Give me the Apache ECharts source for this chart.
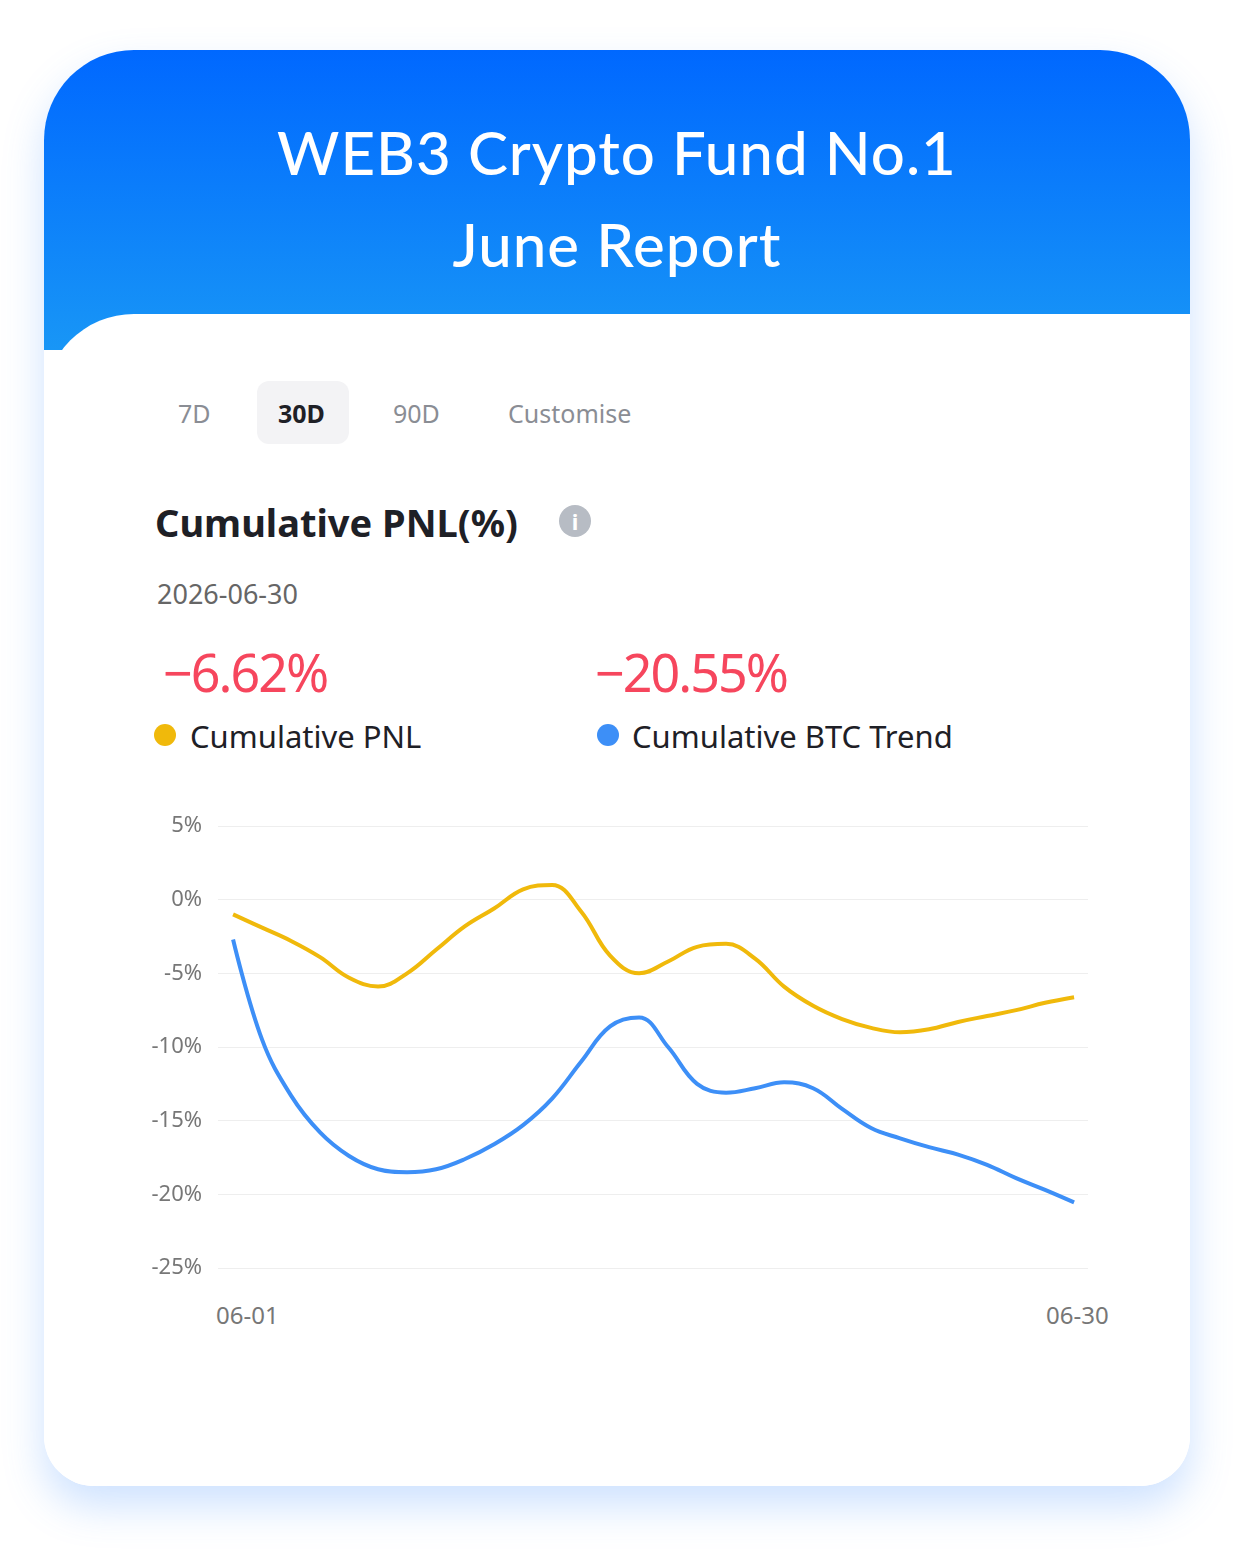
<!DOCTYPE html>
<html><head><meta charset="utf-8">
<script src="https://cdn.jsdelivr.net/npm/echarts@6/dist/echarts.min.js"></script>
<style>
body{margin:0;width:1238px;height:1556px;background:#fff;position:relative;font-family:"Noto Sans",sans-serif;overflow:hidden}
.card{position:absolute;left:44px;top:50px;width:1146px;height:1436px;border-radius:90px 90px 50px 50px;background:#fff;box-shadow:0 20px 40px rgba(80,150,255,0.28);overflow:hidden}
.head{position:absolute;left:0;top:0;width:100%;height:300px;background:linear-gradient(#0068ff,#1896f6)}
.title{position:absolute;left:0;width:100%;text-align:center;color:#fff;font-family:Lato,"Noto Sans",sans-serif;font-size:60px;font-weight:500;letter-spacing:1px}
.body{position:absolute;left:0;top:264px;width:100%;height:1200px;background:#fff;border-top-left-radius:90px}
.abs{position:absolute;white-space:nowrap}
</style></head><body>
<div class="card">
  <div class="head">
    <div class="title" style="top:66px">WEB3 Crypto Fund No.1</div>
    <div class="title" style="top:158px">June Report</div>
  </div>
  <div class="body"></div>
</div>
<div class="abs" style="left:257px;top:381px;width:92px;height:63px;background:#f3f3f5;border-radius:12px"></div>
<div class="abs" style="left:178px;top:396px;font-size:25px;color:#8a8d94">7D</div>
<div class="abs" style="left:278px;top:396px;font-size:25px;color:#1e2026;font-weight:bold">30D</div>
<div class="abs" style="left:393px;top:396px;font-size:25px;color:#8a8d94">90D</div>
<div class="abs" style="left:508px;top:396px;font-size:25px;color:#8a8d94">Customise</div>
<div class="abs" style="left:155px;top:496px;font-size:38px;color:#1e2026;font-weight:bold">Cumulative PNL(%)</div>
<div class="abs" style="left:559px;top:505px;width:32px;height:32px;border-radius:50%;background:#b7bcc4;color:#fff;font-size:22px;font-weight:bold;text-align:center;line-height:32px">i</div>
<div class="abs" style="left:157px;top:575px;font-size:27px;color:#666">2026-06-30</div>
<div class="abs" id="v1" style="left:163px;top:636px;font-size:52px;color:#f6465d;letter-spacing:-2px"></div>
<div class="abs" id="v2" style="left:595px;top:636px;font-size:52px;color:#f6465d;letter-spacing:-2px"></div>
<div class="abs" style="left:154px;top:724px;width:22px;height:22px;border-radius:50%;background:#f0b90b"></div>
<div class="abs" style="left:190px;top:715px;font-size:31px;color:#1e2026">Cumulative PNL</div>
<div class="abs" style="left:597px;top:724px;width:22px;height:22px;border-radius:50%;background:#3d8ff7"></div>
<div class="abs" style="left:632px;top:715px;font-size:31px;color:#1e2026">Cumulative BTC Trend</div>
<div class="abs" id="d1" style="left:216px;top:1298px;font-size:24px;color:#777"></div>
<div class="abs" id="d2" style="left:1046px;top:1298px;font-size:24px;color:#777"></div>
<div id="chart" style="position:absolute;left:0;top:780px;width:1238px;height:580px"></div>
<script>
var dateLabels = ['06-01', '06-30'];
var pnlValues = [-1.0, -1.9, -2.8, -3.9, -5.3, -5.9, -5.0, -3.4, -1.8, -0.6, 0.7, 1.0, -0.8, -3.8, -5.0,
  -4.2, -3.2, -3.0, -4.0, -5.9, -7.2, -8.1, -8.7, -9.0, -8.8, -8.3, -7.9, -7.5, -7.0, -6.62];
var btcValues = [-2.7, -9.5, -13.3, -15.8, -17.4, -18.3, -18.5, -18.3, -17.6, -16.6, -15.3, -13.5, -11.0, -8.6, -8.0,
  -10.0, -12.5, -13.1, -12.8, -12.4, -12.8, -14.2, -15.5, -16.2, -16.8, -17.3, -18.0, -18.9, -19.7, -20.55];

document.getElementById('v1').textContent = pnlValues[pnlValues.length - 1].toFixed(2).replace('-', '\u2212') + '%';
document.getElementById('v2').textContent = btcValues[btcValues.length - 1].toFixed(2).replace('-', '\u2212') + '%';
document.getElementById('d1').textContent = dateLabels[0];
document.getElementById('d2').textContent = dateLabels[1];

function pairs(arr) { return arr.map(function (v, i) { return [i, v]; }); }

var myChart = echarts.init(document.getElementById('chart'), null, {renderer: 'canvas'});
myChart.setOption({
    animation: false,
    grid: {left: 218, right: 150, top: 46, bottom: 92},
    xAxis: {type: 'value', min: -0.52, max: 29.48, show: false},
    yAxis: {
        type: 'value', min: -25, max: 5, interval: 5,
        axisLine: {show: false}, axisTick: {show: false},
        axisLabel: {formatter: '{value}%', color: '#777', fontSize: 22, margin: 16, fontFamily: 'Noto Sans'},
        splitLine: {lineStyle: {color: '#eeeeee'}}
    },
    series: [
        {type: 'line', data: pairs(pnlValues), smooth: 0.4, showSymbol: false, lineStyle: {color: '#f0b90b', width: 4}},
        {type: 'line', data: pairs(btcValues), smooth: 0.4, showSymbol: false, lineStyle: {color: '#3d8ff7', width: 4}}
    ]
});
</script>
</body></html>
